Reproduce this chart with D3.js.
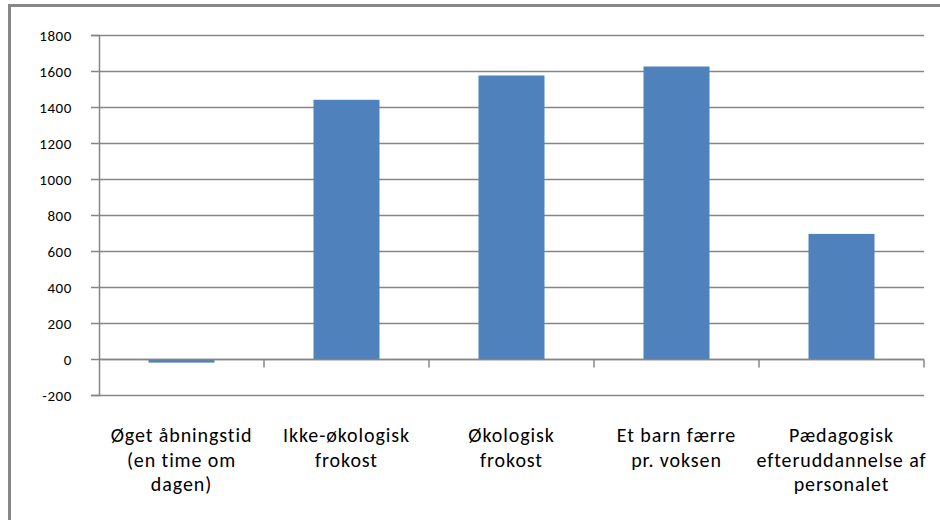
<!DOCTYPE html>
<html>
<head>
<meta charset="utf-8">
<script src="https://cdn.jsdelivr.net/npm/d3@7"></script>
<style>
  body { margin: 0; background: #fff; }
  svg text { font-family: Carlito, Calibri, "Liberation Sans Narrow", "Arial Narrow", sans-serif; fill: #000; }
</style>
</head>
<body>
<div id="viz"></div>
<script>
const categories = [
  ["Øget åbningstid", "(en time om", "dagen)"],
  ["Ikke-økologisk", "frokost"],
  ["Økologisk", "frokost"],
  ["Et barn færre", "pr. voksen"],
  ["Pædagogisk", "efteruddannelse af", "personalet"]
];
const values = [-20, 1440, 1575, 1625, 695];
const yTicks = [-200, 0, 200, 400, 600, 800, 1000, 1200, 1400, 1600, 1800];

const W = 940, H = 520;
const margin = {left: 99, right: 924, top: 35, bottom: 395};

const svg = d3.select("#viz").append("svg")
  .attr("width", W)
  .attr("height", H);

// outer chart frame
svg.append("rect")
  .attr("x", 9.5).attr("y", 5.5)
  .attr("width", W + 20).attr("height", H + 20)
  .attr("fill", "none")
  .attr("stroke", "#878787")
  .attr("stroke-width", 3);

const keys = categories.map((c, i) => i);

const x = d3.scaleBand()
  .domain(keys)
  .range([margin.left, margin.right])
  .padding(0);

const y = d3.scaleLinear()
  .domain([-200, 1800])
  .range([margin.bottom, margin.top]);

// gridlines
svg.append("g")
  .selectAll("line")
  .data(yTicks)
  .enter()
  .append("line")
  .attr("x1", margin.left)
  .attr("x2", margin.right)
  .attr("y1", d => Math.round(y(d)) + 0.5)
  .attr("y2", d => Math.round(y(d)) + 0.5)
  .attr("stroke", "#868686")
  .attr("stroke-width", 1.5);

// y axis
const yAxis = svg.append("g")
  .attr("transform", `translate(${margin.left},0)`)
  .call(d3.axisLeft(y).tickValues(yTicks).tickSize(8).tickPadding(19).tickFormat(d => String(d)));
yAxis.select(".domain").attr("stroke", "#868686").attr("stroke-width", 1.5);
yAxis.selectAll(".tick line").attr("stroke", "#868686").attr("stroke-width", 1.5);
yAxis.selectAll(".tick text")
  .style("font-size", "15px")
  .style("letter-spacing", "0.6px")
  .attr("dy", "0.35em");

// bars
const barW = x.bandwidth() * 0.4;
svg.append("g")
  .selectAll("rect")
  .data(values)
  .enter()
  .append("rect")
  .attr("x", (d, i) => x(i) + (x.bandwidth() - barW) / 2)
  .attr("y", d => y(Math.max(0, d)))
  .attr("width", barW)
  .attr("height", d => Math.abs(y(d) - y(0)))
  .attr("fill", "#4f81bd");

// category axis at zero
const y0 = Math.round(y(0)) + 0.5;
svg.append("line")
  .attr("x1", margin.left).attr("x2", margin.right)
  .attr("y1", y0).attr("y2", y0)
  .attr("stroke", "#868686").attr("stroke-width", 1.5);
svg.append("g")
  .selectAll("line")
  .data(keys.slice(1).concat([keys.length]))
  .enter()
  .append("line")
  .attr("x1", i => Math.round(margin.left + i * x.step()))
  .attr("x2", i => Math.round(margin.left + i * x.step()))
  .attr("y1", y0)
  .attr("y2", y0 + 8)
  .attr("stroke", "#868686")
  .attr("stroke-width", 1.5);

// category labels
const labels = svg.append("g")
  .selectAll("text")
  .data(categories)
  .enter()
  .append("text")
  .attr("x", (d, i) => x(i) + x.bandwidth() / 2)
  .attr("y", 442)
  .attr("text-anchor", "middle")
  .style("font-size", "20px")
  .style("letter-spacing", "0.9px");
labels.selectAll("tspan")
  .data(d => d)
  .enter()
  .append("tspan")
  .attr("x", function () { return this.parentNode.getAttribute("x"); })
  .attr("dy", (d, i) => i === 0 ? 0 : 24.5)
  .text(d => d);
</script>
</body>
</html>
